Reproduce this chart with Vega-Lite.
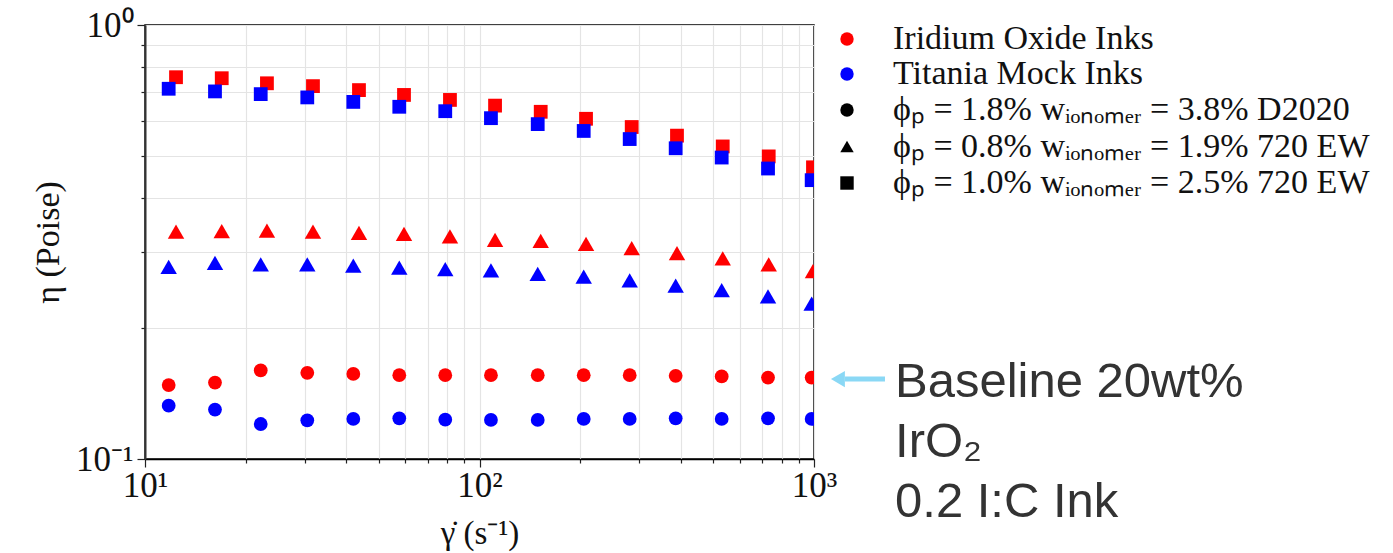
{
  "$schema": "https://vega.github.io/schema/vega-lite/v6.json",
  "width": 669,
  "height": 434,
  "autosize": {"type": "none"},
  "padding": {"left": 145, "top": 25, "right": 579, "bottom": 94},
  "background": "white",
  "config": {"font": "Liberation Serif", "view": {"stroke": "black", "strokeWidth": 1.5}},
  "datasets": {
    "visc": [
      {"ink": "Ir", "form": "s", "rate": 12.38, "eta": 0.758},
      {"ink": "Ir", "form": "s", "rate": 16.96, "eta": 0.754},
      {"ink": "Ir", "form": "s", "rate": 23.15, "eta": 0.734},
      {"ink": "Ir", "form": "s", "rate": 31.78, "eta": 0.723},
      {"ink": "Ir", "form": "s", "rate": 43.62, "eta": 0.708},
      {"ink": "Ir", "form": "s", "rate": 59.47, "eta": 0.690},
      {"ink": "Ir", "form": "s", "rate": 81.6, "eta": 0.672},
      {"ink": "Ir", "form": "s", "rate": 111.3, "eta": 0.652},
      {"ink": "Ir", "form": "s", "rate": 152.4, "eta": 0.631},
      {"ink": "Ir", "form": "s", "rate": 208.2, "eta": 0.608},
      {"ink": "Ir", "form": "s", "rate": 285.1, "eta": 0.582},
      {"ink": "Ir", "form": "s", "rate": 389.4, "eta": 0.556},
      {"ink": "Ir", "form": "s", "rate": 533.5, "eta": 0.525},
      {"ink": "Ir", "form": "s", "rate": 732.2, "eta": 0.498},
      {"ink": "Ir", "form": "s", "rate": 993, "eta": 0.470},
      {"ink": "Ir", "form": "t", "rate": 12.38, "eta": 0.334},
      {"ink": "Ir", "form": "t", "rate": 16.96, "eta": 0.335},
      {"ink": "Ir", "form": "t", "rate": 23.15, "eta": 0.336},
      {"ink": "Ir", "form": "t", "rate": 31.78, "eta": 0.334},
      {"ink": "Ir", "form": "t", "rate": 43.62, "eta": 0.332},
      {"ink": "Ir", "form": "t", "rate": 59.47, "eta": 0.330},
      {"ink": "Ir", "form": "t", "rate": 81.6, "eta": 0.326},
      {"ink": "Ir", "form": "t", "rate": 111.3, "eta": 0.320},
      {"ink": "Ir", "form": "t", "rate": 152.4, "eta": 0.318},
      {"ink": "Ir", "form": "t", "rate": 208.2, "eta": 0.313},
      {"ink": "Ir", "form": "t", "rate": 285.1, "eta": 0.306},
      {"ink": "Ir", "form": "t", "rate": 389.4, "eta": 0.298},
      {"ink": "Ir", "form": "t", "rate": 533.5, "eta": 0.290},
      {"ink": "Ir", "form": "t", "rate": 732.2, "eta": 0.281},
      {"ink": "Ir", "form": "t", "rate": 993, "eta": 0.271},
      {"ink": "Ir", "form": "c", "rate": 11.77, "eta": 0.148},
      {"ink": "Ir", "form": "c", "rate": 16.19, "eta": 0.150},
      {"ink": "Ir", "form": "c", "rate": 22.18, "eta": 0.160},
      {"ink": "Ir", "form": "c", "rate": 30.56, "eta": 0.158},
      {"ink": "Ir", "form": "c", "rate": 41.95, "eta": 0.157},
      {"ink": "Ir", "form": "c", "rate": 57.57, "eta": 0.156},
      {"ink": "Ir", "form": "c", "rate": 79.0, "eta": 0.156},
      {"ink": "Ir", "form": "c", "rate": 108.2, "eta": 0.156},
      {"ink": "Ir", "form": "c", "rate": 149.3, "eta": 0.156},
      {"ink": "Ir", "form": "c", "rate": 204.9, "eta": 0.156},
      {"ink": "Ir", "form": "c", "rate": 281.2, "eta": 0.156},
      {"ink": "Ir", "form": "c", "rate": 385.9, "eta": 0.1555},
      {"ink": "Ir", "form": "c", "rate": 529.7, "eta": 0.155},
      {"ink": "Ir", "form": "c", "rate": 728.7, "eta": 0.154},
      {"ink": "Ir", "form": "c", "rate": 984, "eta": 0.154},
      {"ink": "Ti", "form": "s", "rate": 11.77, "eta": 0.713},
      {"ink": "Ti", "form": "s", "rate": 16.19, "eta": 0.703},
      {"ink": "Ti", "form": "s", "rate": 22.18, "eta": 0.693},
      {"ink": "Ti", "form": "s", "rate": 30.56, "eta": 0.681},
      {"ink": "Ti", "form": "s", "rate": 41.95, "eta": 0.665},
      {"ink": "Ti", "form": "s", "rate": 57.57, "eta": 0.648},
      {"ink": "Ti", "form": "s", "rate": 79.0, "eta": 0.633},
      {"ink": "Ti", "form": "s", "rate": 108.2, "eta": 0.610},
      {"ink": "Ti", "form": "s", "rate": 149.3, "eta": 0.591},
      {"ink": "Ti", "form": "s", "rate": 204.9, "eta": 0.570},
      {"ink": "Ti", "form": "s", "rate": 281.2, "eta": 0.546},
      {"ink": "Ti", "form": "s", "rate": 385.9, "eta": 0.520},
      {"ink": "Ti", "form": "s", "rate": 529.7, "eta": 0.495},
      {"ink": "Ti", "form": "s", "rate": 728.7, "eta": 0.467},
      {"ink": "Ti", "form": "s", "rate": 984, "eta": 0.439},
      {"ink": "Ti", "form": "t", "rate": 11.77, "eta": 0.277},
      {"ink": "Ti", "form": "t", "rate": 16.19, "eta": 0.283},
      {"ink": "Ti", "form": "t", "rate": 22.18, "eta": 0.281},
      {"ink": "Ti", "form": "t", "rate": 30.56, "eta": 0.281},
      {"ink": "Ti", "form": "t", "rate": 41.95, "eta": 0.279},
      {"ink": "Ti", "form": "t", "rate": 57.57, "eta": 0.276},
      {"ink": "Ti", "form": "t", "rate": 79.0, "eta": 0.274},
      {"ink": "Ti", "form": "t", "rate": 108.2, "eta": 0.272},
      {"ink": "Ti", "form": "t", "rate": 149.3, "eta": 0.267},
      {"ink": "Ti", "form": "t", "rate": 204.9, "eta": 0.263},
      {"ink": "Ti", "form": "t", "rate": 281.2, "eta": 0.258},
      {"ink": "Ti", "form": "t", "rate": 385.9, "eta": 0.251},
      {"ink": "Ti", "form": "t", "rate": 529.7, "eta": 0.245},
      {"ink": "Ti", "form": "t", "rate": 728.7, "eta": 0.237},
      {"ink": "Ti", "form": "t", "rate": 984, "eta": 0.228},
      {"ink": "Ti", "form": "c", "rate": 11.77, "eta": 0.1327},
      {"ink": "Ti", "form": "c", "rate": 16.19, "eta": 0.130},
      {"ink": "Ti", "form": "c", "rate": 22.18, "eta": 0.1204},
      {"ink": "Ti", "form": "c", "rate": 30.56, "eta": 0.1228},
      {"ink": "Ti", "form": "c", "rate": 41.95, "eta": 0.1237},
      {"ink": "Ti", "form": "c", "rate": 57.57, "eta": 0.1241},
      {"ink": "Ti", "form": "c", "rate": 79.0, "eta": 0.1232},
      {"ink": "Ti", "form": "c", "rate": 108.2, "eta": 0.123},
      {"ink": "Ti", "form": "c", "rate": 149.3, "eta": 0.123},
      {"ink": "Ti", "form": "c", "rate": 204.9, "eta": 0.1237},
      {"ink": "Ti", "form": "c", "rate": 281.2, "eta": 0.1237},
      {"ink": "Ti", "form": "c", "rate": 385.9, "eta": 0.1241},
      {"ink": "Ti", "form": "c", "rate": 529.7, "eta": 0.1237},
      {"ink": "Ti", "form": "c", "rate": 728.7, "eta": 0.1241},
      {"ink": "Ti", "form": "c", "rate": 984, "eta": 0.1237}
    ]
  },
  "layer": [
    {
      "data": {"name": "visc"},
      "transform": [{"filter": "datum.form != 't'"}],
      "mark": {"type": "point", "filled": true, "opacity": 1, "clip": true, "strokeWidth": 0, "size": 190},
      "encoding": {
        "x": {
          "field": "rate", "type": "quantitative",
          "scale": {"type": "log", "domain": [10, 1000], "nice": false},
          "axis": {
            "values": [10, 20, 30, 40, 50, 60, 70, 80, 90, 100, 200, 300, 400, 500, 600, 700, 800, 900, 1000],
            "labelExpr": "datum.value == 10 ? '10¹' : datum.value == 100 ? '10²' : datum.value == 1000 ? '10³' : ''",
            "title": "γ̇ (s⁻¹)",
            "grid": true, "gridColor": "#e4e4e4", "gridWidth": 1.2,
            "tickColor": "#222", "tickWidth": 1.2,
            "tickSize": {"condition": {"test": "datum.value == 10 || datum.value == 100 || datum.value == 1000", "value": 8}, "value": 4},
            "domainColor": "#000", "domainWidth": 1.5,
            "labelFont": "Liberation Serif", "labelFontSize": 35, "labelColor": "#111", "labelPadding": 1,
            "labelFlush": false, "labelOverlap": false, "labelBound": false,
            "titleFont": "Liberation Serif", "titleFontSize": 33, "titleFontWeight": "normal", "titleColor": "#111", "titlePadding": 14
          }
        },
        "y": {
          "field": "eta", "type": "quantitative",
          "scale": {"type": "log", "domain": [0.1, 1], "nice": false},
          "axis": {
            "values": [0.1, 0.2, 0.3, 0.4, 0.5, 0.6, 0.7, 0.8, 0.9, 1],
            "labelExpr": "datum.value == 1 ? '10⁰' : datum.value == 0.1 ? '10⁻¹' : ''",
            "title": "η (Poise)",
            "grid": true, "gridColor": "#e4e4e4", "gridWidth": 1.2,
            "tickColor": "#222", "tickWidth": 1.2,
            "tickSize": {"condition": {"test": "datum.value == 1 || datum.value == 0.1", "value": 8}, "value": 4},
            "domainColor": "#333", "domainWidth": 2,
            "labelFont": "Liberation Serif", "labelFontSize": 35, "labelColor": "#111", "labelPadding": 4,
            "labelFlush": false, "labelOverlap": false, "labelBound": false,
            "titleFont": "Liberation Serif", "titleFontSize": 34, "titleFontWeight": "normal", "titleColor": "#111", "titlePadding": 10
          }
        },
        "color": {
          "field": "ink", "type": "nominal",
          "scale": {"domain": ["Ir", "Ti"], "range": ["#ff0000", "#0000ff"]},
          "legend": {
            "orient": "none", "legendX": 685, "legendY": -3, "title": null, "padding": 0,
            "symbolType": "circle", "symbolSize": 180, "symbolStrokeWidth": 0,
            "labelExpr": "datum.value == 'Ir' ? 'Iridium Oxide Inks' : 'Titania Mock Inks'",
            "labelFont": "Liberation Serif", "labelFontSize": 34, "labelColor": "#111", "labelLimit": 700,
            "labelOffset": 29, "rowPadding": 1
          }
        },
        "shape": {
          "field": "form", "type": "nominal",
          "scale": {"domain": ["c", "t", "s"], "range": ["circle", "triangle-up", "square"]},
          "legend": {
            "orient": "none", "legendX": 685, "legendY": 68, "title": null, "padding": 0,
            "symbolSize": 180, "symbolFillColor": "#000", "symbolStrokeColor": "#000", "symbolStrokeWidth": 0,
            "labelExpr": "datum.value == 'c' ? 'ϕₚ = 1.8% wᵢₒₙₒₘₑᵣ = 3.8% D2020' : datum.value == 't' ? 'ϕₚ = 0.8% wᵢₒₙₒₘₑᵣ = 1.9% 720 EW' : 'ϕₚ = 1.0% wᵢₒₙₒₘₑᵣ = 2.5% 720 EW'",
            "labelFont": "Liberation Serif", "labelFontSize": 34, "labelColor": "#111", "labelLimit": 700,
            "labelOffset": 29, "rowPadding": 2.5
          }
        }
      }
    },
    {
      "data": {"name": "visc"},
      "transform": [{"filter": "datum.form == 't'"}],
      "mark": {"type": "point", "filled": true, "opacity": 1, "clip": true, "strokeWidth": 0, "size": 270},
      "encoding": {
        "x": {"field": "rate", "type": "quantitative", "scale": {"type": "log", "domain": [10, 1000], "nice": false}},
        "y": {"field": "eta", "type": "quantitative", "scale": {"type": "log", "domain": [0.1, 1], "nice": false}},
        "color": {"field": "ink", "type": "nominal", "scale": {"domain": ["Ir", "Ti"], "range": ["#ff0000", "#0000ff"]}},
        "shape": {"field": "form", "type": "nominal", "scale": {"domain": ["c", "t", "s"], "range": ["circle", "triangle-up", "square"]}}
      }
    },
    {
      "data": {"values": [{"x1": 1238, "x2": 1630, "y": 0.1528}]},
      "mark": {"type": "rule", "color": "#8ad8f5", "strokeWidth": 5, "clip": false},
      "encoding": {
        "x": {"field": "x1", "type": "quantitative", "scale": {"type": "log", "domain": [10, 1000], "nice": false}},
        "x2": {"field": "x2"},
        "y": {"field": "y", "type": "quantitative", "scale": {"type": "log", "domain": [0.1, 1], "nice": false}}
      }
    },
    {
      "data": {"values": [{"x": 1179, "y": 0.1528}]},
      "mark": {"type": "point", "shape": "triangle-left", "filled": true, "color": "#8ad8f5", "opacity": 1, "size": 260, "clip": false, "strokeWidth": 0},
      "encoding": {
        "x": {"field": "x", "type": "quantitative", "scale": {"type": "log", "domain": [10, 1000], "nice": false}},
        "y": {"field": "y", "type": "quantitative", "scale": {"type": "log", "domain": [0.1, 1], "nice": false}}
      }
    },
    {
      "data": {"values": [
        {"label": "Baseline 20wt%", "x": 1746.6, "y": 0.139},
        {"label": "IrO₂", "x": 1746.6, "y": 0.1011},
        {"label": "0.2 I:C Ink", "x": 1746.6, "y": 0.0735}
      ]},
      "mark": {"type": "text", "font": "Liberation Sans", "fontSize": 49, "color": "#333333", "align": "left", "baseline": "alphabetic", "clip": false},
      "encoding": {
        "x": {"field": "x", "type": "quantitative", "scale": {"type": "log", "domain": [10, 1000], "nice": false}},
        "y": {"field": "y", "type": "quantitative", "scale": {"type": "log", "domain": [0.1, 1], "nice": false}},
        "text": {"field": "label"}
      }
    }
  ]
}
